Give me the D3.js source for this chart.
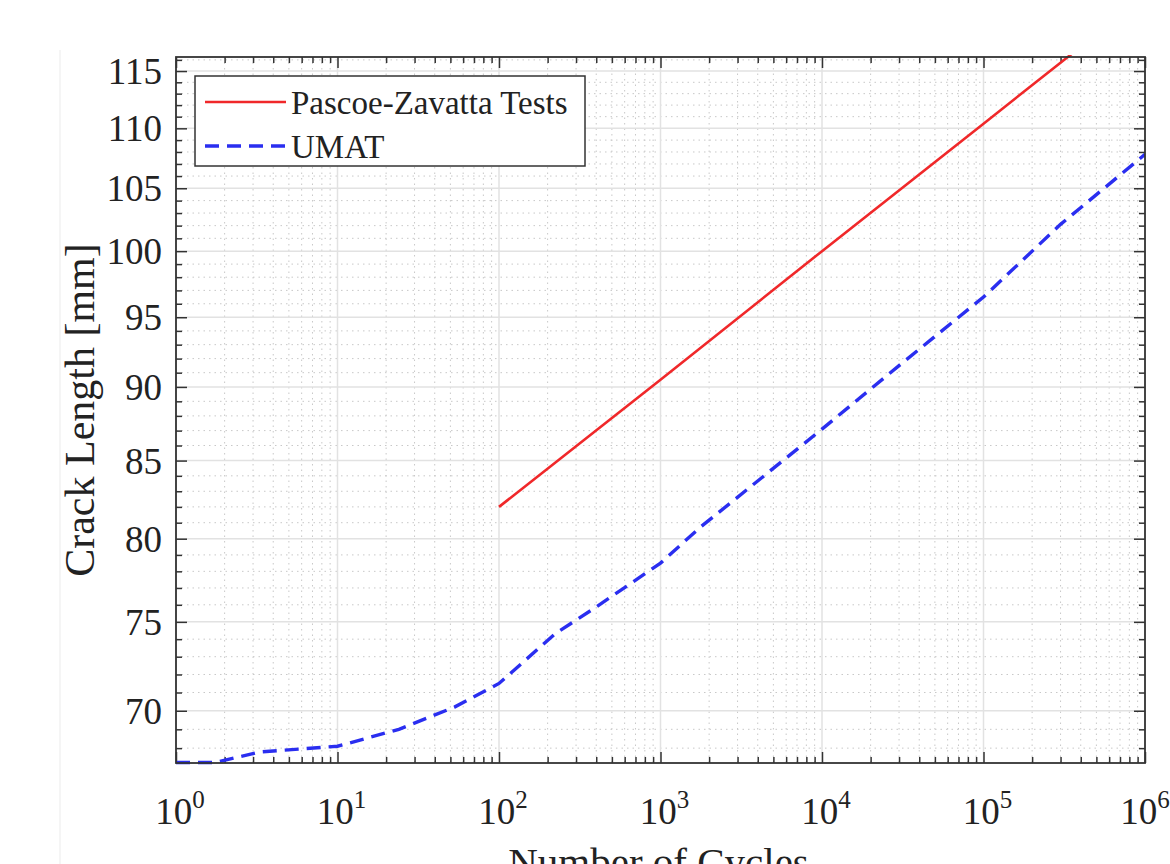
<!DOCTYPE html>
<html>
<head>
<meta charset="utf-8">
<script src="https://cdn.jsdelivr.net/npm/d3@7"></script>
<style>
  body { margin: 0; background: #fff; }
  text { font-family: "Liberation Serif", "Times New Roman", serif; fill: #222; }
</style>
</head>
<body>
<div id="chart"></div>
<script>
// values
var decades = [0, 1, 2, 3, 4, 5, 6];
var yTicks = [70, 75, 80, 85, 90, 95, 100, 105, 110, 115];

var testCycles = [100, 1000, 10000, 100000, 1000000];
var testLength = [82, 90.5, 100, 110.4, 121.9];

var umatCycles = [1, 1.75, 3.3, 10, 24, 53, 100, 222, 404, 1000, 1757, 10000, 30000, 100000, 300000, 1000000];
var umatLength = [67.25, 67.25, 67.8, 68.1, 69.0, 70.2, 71.5, 74.3, 75.9, 78.5, 80.7, 87.1, 91.5, 96.5, 102.1, 107.8];

var seriesNames = ["Pascoe-Zavatta Tests", "UMAT"];

// dimensions
var margin = {top: 57, right: 25, bottom: 101, left: 176},
    W = 1170, H = 864,
    width = W - margin.left - margin.right,
    height = H - margin.top - margin.bottom;

var svg = d3.select("#chart")
  .append("svg")
  .attr("width", W)
  .attr("height", H);

// faint page edge seen in the picture
svg.append("line")
  .attr("x1", 60).attr("x2", 60).attr("y1", 50).attr("y2", H)
  .attr("stroke", "#f2f2f2").attr("stroke-width", 1.5);

var g = svg.append("g")
  .attr("transform", "translate(" + margin.left + "," + margin.top + ")");

var x = d3.scaleLog().domain([1, 1e6]).range([0, width]);
var y = d3.scaleLog().domain([67.22, 116.26]).range([height, 0]);

// minor values
var xMinor = [];
decades.slice(0, -1).forEach(function(k) {
  for (var m = 2; m <= 9; m++) xMinor.push(m * Math.pow(10, k));
});
var yMinor = d3.range(68, 117).filter(function(v) { return v % 5 !== 0; });
var xMajor = decades.map(function(k) { return Math.pow(10, k); });

// minor grid (dotted)
g.selectAll(".xminor").data(xMinor).enter().append("line")
  .attr("x1", function(d) { return x(d); }).attr("x2", function(d) { return x(d); })
  .attr("y1", 0).attr("y2", height)
  .attr("stroke", "#c8c8c8").attr("stroke-width", 1).attr("stroke-dasharray", "1.5,4");
g.selectAll(".yminor").data(yMinor).enter().append("line")
  .attr("x1", 0).attr("x2", width)
  .attr("y1", function(d) { return y(d); }).attr("y2", function(d) { return y(d); })
  .attr("stroke", "#c8c8c8").attr("stroke-width", 1).attr("stroke-dasharray", "1.5,4");

// major grid
g.selectAll(".xmajor").data(xMajor).enter().append("line")
  .attr("x1", function(d) { return x(d); }).attr("x2", function(d) { return x(d); })
  .attr("y1", 0).attr("y2", height)
  .attr("stroke", "#e2e2e2").attr("stroke-width", 1.5);
g.selectAll(".ymajor").data(yTicks).enter().append("line")
  .attr("x1", 0).attr("x2", width)
  .attr("y1", function(d) { return y(d); }).attr("y2", function(d) { return y(d); })
  .attr("stroke", "#e2e2e2").attr("stroke-width", 1.5);

// ticks pointing inward on all four sides
function tickAxis(axisFn, scale, vals, size, tr) {
  var a = g.append("g")
    .attr("transform", tr)
    .call(axisFn(scale).tickValues(vals).tickSize(size).tickFormat(""));
  a.select(".domain").remove();
  a.selectAll("line").attr("stroke", "#333").attr("stroke-width", 1.5);
}
tickAxis(d3.axisBottom, x, xMajor, -11, "translate(0," + height + ")");
tickAxis(d3.axisBottom, x, xMinor, -6, "translate(0," + height + ")");
tickAxis(d3.axisTop, x, xMajor, -11, "translate(0,0)");
tickAxis(d3.axisTop, x, xMinor, -6, "translate(0,0)");
tickAxis(d3.axisLeft, y, yTicks, -11, "translate(0,0)");
tickAxis(d3.axisLeft, y, yMinor, -6, "translate(0,0)");
tickAxis(d3.axisRight, y, yTicks, -11, "translate(" + width + ",0)");
tickAxis(d3.axisRight, y, yMinor, -6, "translate(" + width + ",0)");

// lines
g.append("clipPath").attr("id", "clip")
  .append("rect").attr("y", -2).attr("width", width).attr("height", height + 4);

var line = d3.line()
  .x(function(d) { return x(d[0]); })
  .y(function(d) { return y(d[1]); });

g.append("path")
  .datum(d3.zip(testCycles, testLength))
  .attr("clip-path", "url(#clip)")
  .attr("d", line)
  .attr("fill", "none").attr("stroke", "#f0282a").attr("stroke-width", 2.6);

g.append("path")
  .datum(d3.zip(umatCycles, umatLength))
  .attr("clip-path", "url(#clip)")
  .attr("d", line)
  .attr("fill", "none").attr("stroke", "#2a2ef0").attr("stroke-width", 3.4)
  .attr("stroke-dasharray", "14,8");

// frame
g.append("rect")
  .attr("width", width).attr("height", height)
  .attr("fill", "none").attr("stroke", "#333").attr("stroke-width", 1.8);

// tick labels
g.selectAll(".ylab").data(yTicks).enter().append("text")
  .attr("x", -14).attr("y", function(d) { return y(d); })
  .attr("dy", "0.35em")
  .attr("text-anchor", "end")
  .style("font-size", "37px")
  .text(function(d) { return d; });

var xl = g.selectAll(".xlab").data(decades).enter().append("text")
  .attr("x", function(d) { return x(Math.pow(10, d)) + (d === 6 ? 0 : 4); })
  .attr("y", height + 61)
  .attr("text-anchor", "middle")
  .style("font-size", "37px");
xl.append("tspan").text("10");
xl.append("tspan").attr("dy", -16).style("font-size", "25px")
  .text(function(d) { return d; });

// axis titles
g.append("text")
  .attr("text-anchor", "middle")
  .attr("x", width / 2 - 2)
  .attr("y", height + 113)
  .style("font-size", "41px")
  .text("Number of Cycles");

g.append("text")
  .attr("text-anchor", "middle")
  .attr("transform", "rotate(-90)")
  .attr("x", -(410 - margin.top))
  .attr("y", -margin.left + 94)
  .style("font-size", "42px")
  .text("Crack Length [mm]");

// legend
var leg = g.append("g").attr("transform", "translate(19,19)");
leg.append("rect")
  .attr("width", 390).attr("height", 90)
  .attr("fill", "#fff").attr("stroke", "#333").attr("stroke-width", 1.5);
var legItems = leg.selectAll(".li").data(seriesNames).enter().append("g")
  .attr("transform", function(d, i) { return "translate(0," + (26 + i * 44) + ")"; });
legItems.append("line")
  .attr("x1", 10).attr("x2", 91).attr("y1", 0).attr("y2", 0)
  .attr("stroke", function(d, i) { return i === 0 ? "#f0282a" : "#2a2ef0"; })
  .attr("stroke-width", function(d, i) { return i === 0 ? 2.6 : 3.4; })
  .attr("stroke-dasharray", function(d, i) { return i === 0 ? null : "14,8"; });
legItems.append("text")
  .attr("x", 96).attr("dy", "0.35em")
  .style("font-size", "33px")
  .text(function(d) { return d; });
</script>
</body>
</html>
